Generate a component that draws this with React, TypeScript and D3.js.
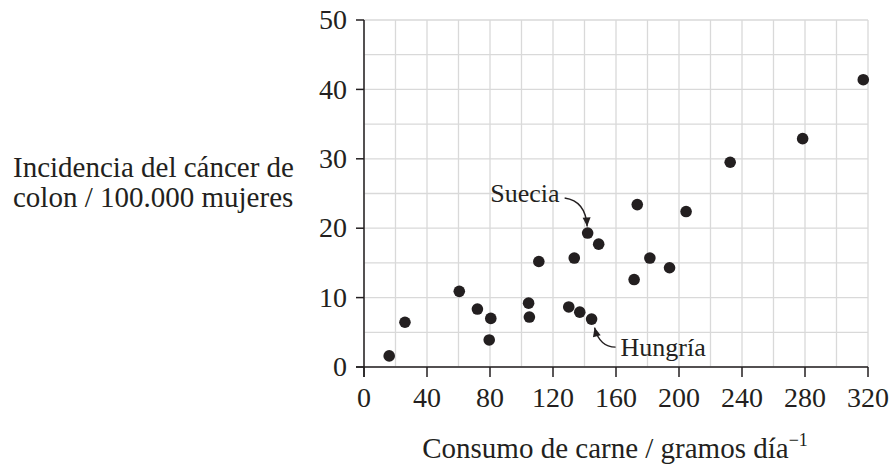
import * as React from "react";
import * as d3 from "d3";

// meat consumption (g/day) and colon cancer incidence per 100,000 women
const meat = [
  16, 26, 60.5, 72, 80.5, 79.5, 104.5, 105, 111, 130, 133.5, 137, 142, 144.5,
  149, 173.5, 204.5, 181.5, 194, 171.5, 232.5, 278.5, 317,
];
const incidence = [
  1.6, 6.45, 10.9, 8.35, 7.0, 3.9, 9.2, 7.2, 15.2, 8.65, 15.7, 7.9, 19.3, 6.9,
  17.7, 23.4, 22.4, 15.7, 14.3, 12.6, 29.5, 32.9, 41.4,
];
const countryLabels = ["", "", "", "", "", "", "", "", "", "", "", "", "Suecia", "Hungría"];

const xTickValues = [0, 40, 80, 120, 160, 200, 240, 280, 320];
const yTickValues = [0, 10, 20, 30, 40, 50];
const yLabelLines = ["Incidencia del cáncer de", "colon / 100.000 mujeres"];
const xLabel = "Consumo de carne / gramos día";

const ink = "#231f20";
const gridColor = "#d9d9d9";
const font = "'Liberation Serif', 'Times New Roman', serif";

function arrowHead(tip: [number, number], from: [number, number]) {
  const ang = Math.atan2(tip[1] - from[1], tip[0] - from[0]);
  const len = 9;
  const half = 4;
  const bx = tip[0] - len * Math.cos(ang);
  const by = tip[1] - len * Math.sin(ang);
  const nx = -Math.sin(ang) * half;
  const ny = Math.cos(ang) * half;
  return `M${tip[0]},${tip[1]}L${bx + nx},${by + ny}L${bx - nx},${by - ny}Z`;
}

export default function App() {
  const width = 892;
  const height = 468;

  const xScale = d3.scaleLinear().domain([0, 320]).range([364, 868]);
  const yScale = d3.scaleLinear().domain([0, 50]).range([367, 20]);

  const xGrid = d3.range(0, 321, 20);
  const yGrid = d3.range(0, 51, 5);

  const points = meat.map((m, i) => ({ x: m, y: incidence[i], label: countryLabels[i] ?? "" }));
  const sweden = points.find((p) => p.label === "Suecia")!;
  const hungary = points.find((p) => p.label === "Hungría")!;

  // Suecia annotation
  const sx = xScale(sweden.x);
  const sy = yScale(sweden.y);
  const sStart: [number, number] = [sx - 23, sy - 35];
  const sCtrl: [number, number] = [sx - 2, sy - 32];
  const sTip: [number, number] = [sx - 0.5, sy - 6.5];

  // Hungría annotation
  const hx = xScale(hungary.x);
  const hy = yScale(hungary.y);
  const hStart: [number, number] = [hx + 24, hy + 28];
  const hCtrl: [number, number] = [hx + 8, hy + 28];
  const hTip: [number, number] = [hx + 3, hy + 8.5];

  return (
    <svg
      width={width}
      height={height}
      style={{ position: "absolute", left: 0, top: 0, background: "#fff" }}
      fontFamily={font}
    >
      {/* grid */}
      <g stroke={gridColor} strokeWidth={1.3}>
        {xGrid.map((v) => (
          <line key={`gx${v}`} x1={xScale(v)} x2={xScale(v)} y1={yScale(0)} y2={yScale(50)} />
        ))}
        {yGrid.map((v) => (
          <line key={`gy${v}`} x1={xScale(0)} x2={xScale(320)} y1={yScale(v)} y2={yScale(v)} />
        ))}
      </g>

      {/* axes */}
      <g stroke={ink} strokeWidth={1.5}>
        <line x1={xScale(0)} x2={xScale(0)} y1={yScale(50)} y2={yScale(0) + 10} />
        <line x1={xScale(0) - 8} x2={xScale(320)} y1={yScale(0)} y2={yScale(0)} />
        {yTickValues.map((t) => (
          <line key={`yt${t}`} x1={xScale(0) - 8} x2={xScale(0)} y1={yScale(t)} y2={yScale(t)} />
        ))}
        {xTickValues.map((t) => (
          <line key={`xt${t}`} x1={xScale(t)} x2={xScale(t)} y1={yScale(0)} y2={yScale(0) + 10} />
        ))}
      </g>

      {/* tick labels */}
      <g fill={ink} fontSize={28} textAnchor="end">
        {yTickValues.map((t) => (
          <text key={`yl${t}`} x={xScale(0) - 17} y={yScale(t)} dy="0.33em">
            {t}
          </text>
        ))}
      </g>
      <g fill={ink} fontSize={28} textAnchor="middle">
        {xTickValues.map((t) => (
          <text key={`xl${t}`} x={xScale(t)} y={407}>
            {t}
          </text>
        ))}
      </g>

      {/* axis titles */}
      <g fill={ink} fontSize={29}>
        {yLabelLines.map((line, i) => (
          <text key={line} x={13} y={177 + i * 30}>
            {line}
          </text>
        ))}
        <text x={615} y={458} textAnchor="middle">
          {xLabel}
          <tspan fontSize={18} dy={-12}>
            −1
          </tspan>
        </text>
      </g>

      {/* points */}
      <g fill={ink}>
        {points.map((p, i) => (
          <circle key={i} cx={xScale(p.x)} cy={yScale(p.y)} r={5.8} />
        ))}
      </g>

      {/* annotations */}
      <g fill={ink} fontSize={26}>
        <text x={sStart[0] - 5} y={sy - 31} textAnchor="end">
          {sweden.label}
        </text>
        <text x={hStart[0] + 5} y={hy + 37}>
          {hungary.label}
        </text>
      </g>
      <g stroke={ink} strokeWidth={1.4} fill="none">
        <path d={`M${sStart[0]},${sStart[1]}Q${sCtrl[0]},${sCtrl[1]} ${sTip[0]},${sTip[1]}`} />
        <path d={`M${hStart[0]},${hStart[1]}Q${hCtrl[0]},${hCtrl[1]} ${hTip[0]},${hTip[1]}`} />
      </g>
      <g fill={ink}>
        <path d={arrowHead(sTip, sCtrl)} />
        <path d={arrowHead(hTip, hCtrl)} />
      </g>
    </svg>
  );
}
